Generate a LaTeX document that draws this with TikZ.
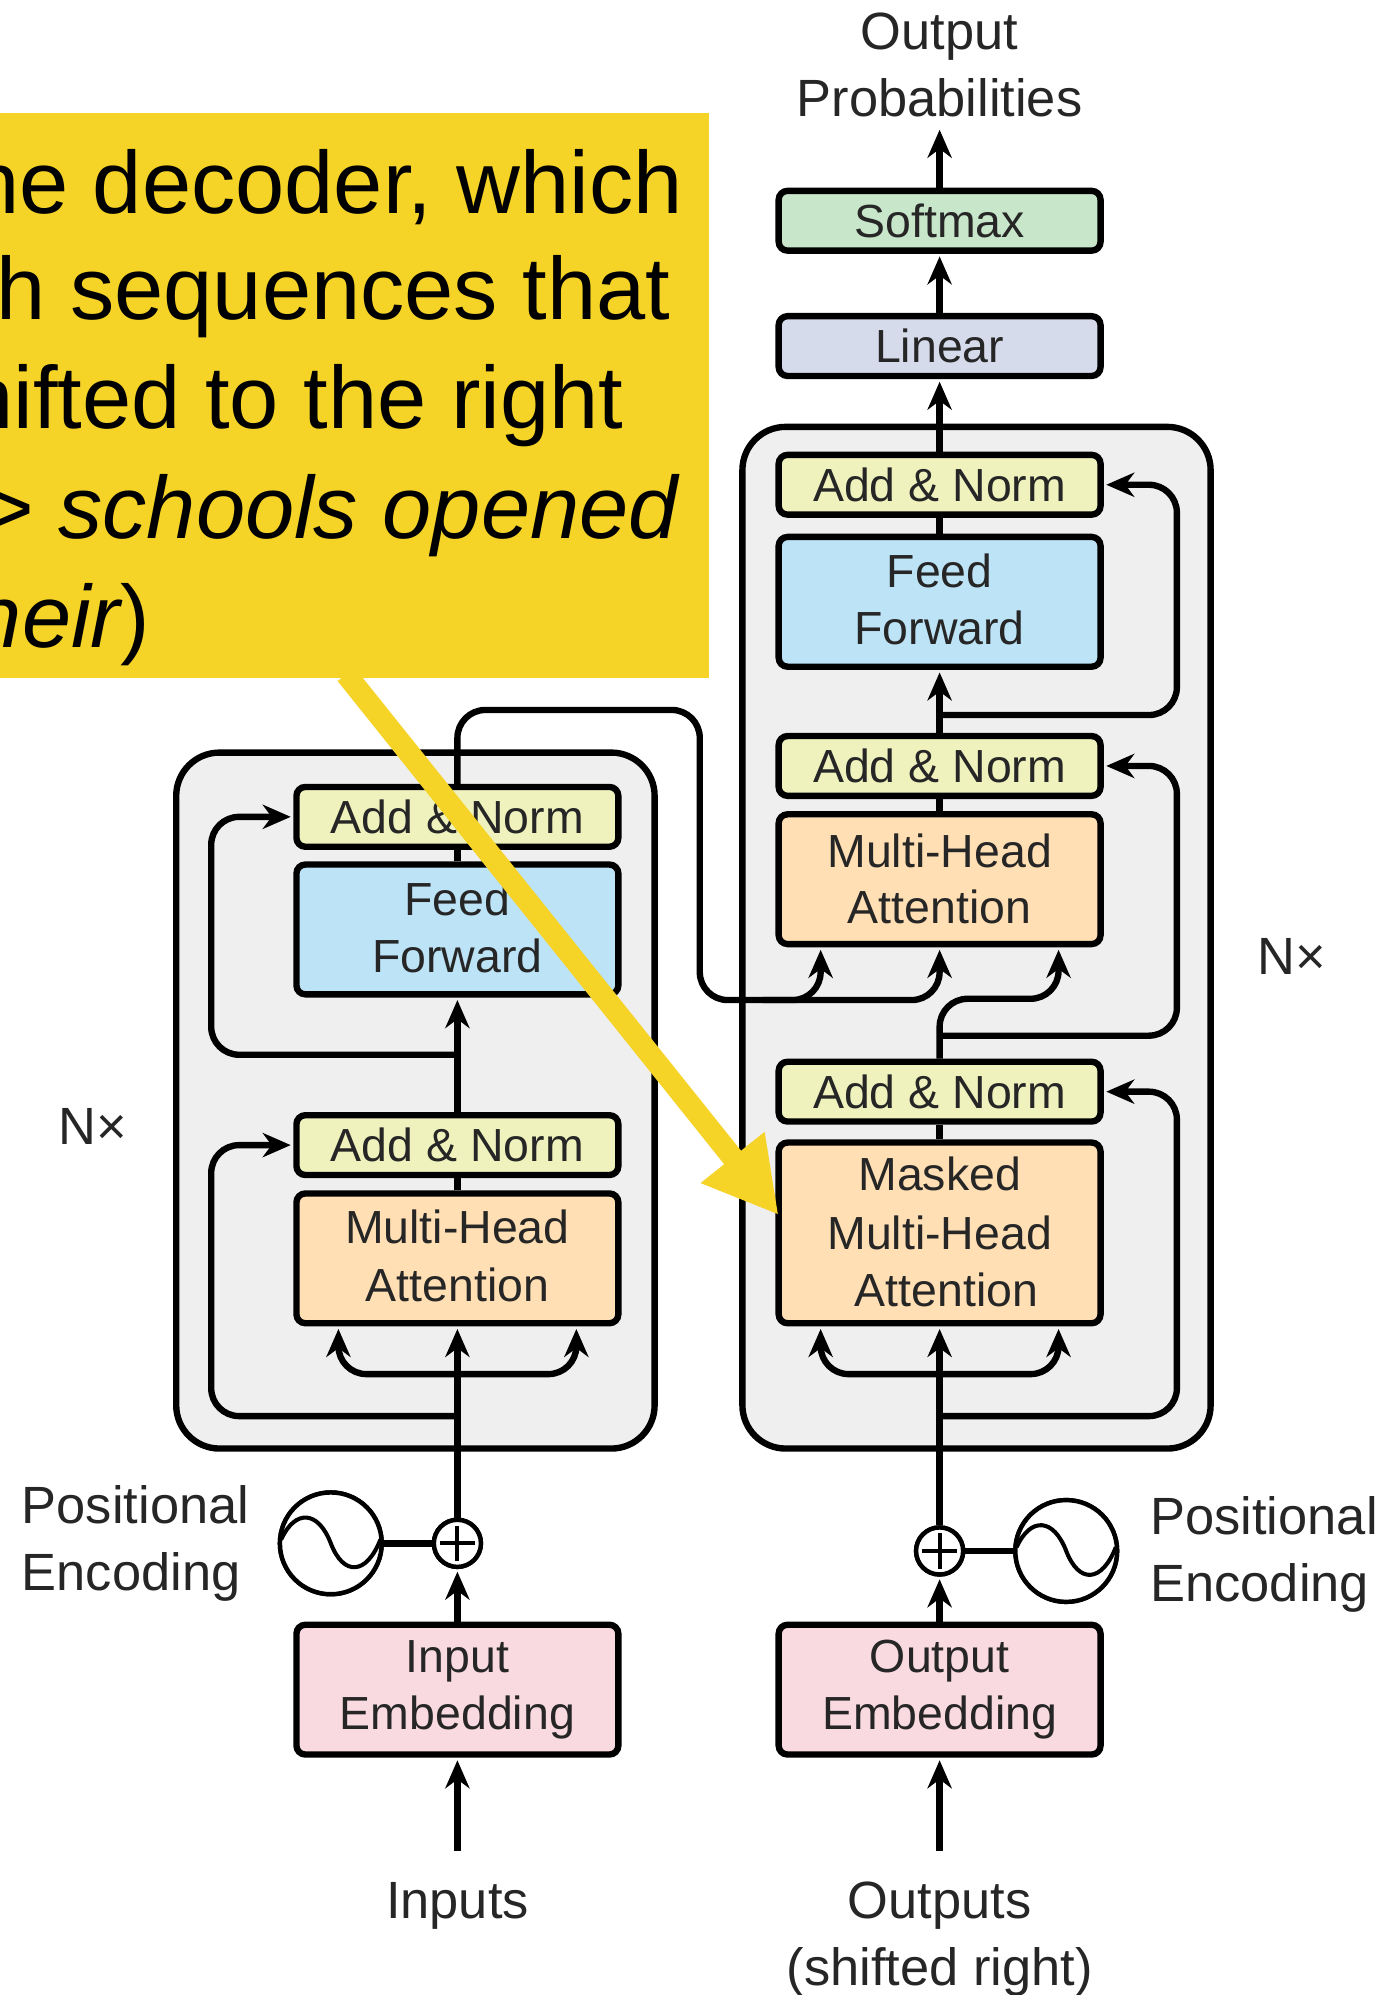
\documentclass[tikz,border=0pt]{standalone}
\usepackage{fontspec}
\setmainfont{Liberation Sans}
\usetikzlibrary{arrows.meta}
\definecolor{cgreen}{HTML}{C8E6C9}
\definecolor{cblue}{HTML}{D6DBEC}
\definecolor{cnorm}{HTML}{EFF2BD}
\definecolor{cff}{HTML}{BDE3F6}
\definecolor{corange}{HTML}{FFDFB3}
\definecolor{cpink}{HTML}{F9DAE1}
\definecolor{cgray}{HTML}{EFEFEF}
\definecolor{cyellow}{HTML}{F5D327}
\definecolor{ctext}{HTML}{262626}
\newcommand\lineup[2]{\raisebox{#1}{#2}}
\tikzset{
  x=1pt,y=-1pt,
  block/.style={draw=black,line width=5pt,rounded corners=7pt,minimum width=253pt,inner sep=0pt,align=center,text=ctext,font=\fontsize{36.5}{45}\selectfont},
  short/.style={block,minimum height=47pt},
  mid/.style={block,minimum height=102pt},
  outerbox/.style={draw=black,line width=5pt,rounded corners=34pt,fill=cgray,inner sep=0pt},
  conn/.style={draw=black,line width=5pt,rounded corners=22pt,-{Stealth[length=22pt,width=19pt,inset=7pt]},shorten >=2pt},
  plain/.style={draw=black,line width=5pt,rounded corners=22pt},
  lbl/.style={text=ctext,inner sep=0pt,align=center,font=\fontsize{41.2}{52.5}\selectfont},
  lbll/.style={lbl,align=left},
  ytext/.style={text=black,inner sep=0pt,anchor=east,font=\fontsize{69.5}{86}\selectfont},
  circ/.style={draw=black,line width=3.5pt,fill=white,circle,inner sep=0pt},
  yarrow/.style={draw=cyellow,line width=17pt,-{Triangle[length=58pt,width=60pt]}},
}
\begin{document}
\begin{tikzpicture}
\useasboundingbox (0,0) rectangle (1087,1568);
% outer boxes
\node[outerbox,minimum width=368pt,minimum height=803pt,anchor=north west] (decoder) at (581,333) {};
\node[outerbox,minimum width=376pt,minimum height=547pt,anchor=north west] (encoder) at (136,589) {};
% decoder blocks
\node[short,fill=cgreen] (softmax) at (738.5,173.5) {Softmax};
\node[short,fill=cblue] (linear) at (738.5,272) {Linear};
\node[short,fill=cnorm] (normA) at (738.5,381) {Add \& Norm};
\node[mid,fill=cff] (ffd) at (738.5,473) {\lineup{4pt}{Feed}\\\lineup{4pt}{Forward}};
\node[short,fill=cnorm] (normB) at (738.5,602) {Add \& Norm};
\node[mid,fill=corange] (mhad) at (738.5,691) {Multi-Head\\\lineup{1pt}{Attention}};
\node[short,fill=cnorm] (normC) at (738.5,858) {Add \& Norm};
\node[block,minimum height=142pt,fill=corange] (masked) at (738.5,969) {\lineup{3pt}{Masked}\\\lineup{2pt}{Multi-Head}\\\lineup{2pt}{\hspace{11pt}Attention}};
% encoder blocks
\node[short,fill=cnorm] (normD) at (359.5,642) {Add \& Norm};
\node[mid,fill=cff] (ffe) at (359.5,730.5) {\lineup{3pt}{Feed}\\\lineup{3pt}{Forward}};
\node[short,fill=cnorm] (normE) at (359.5,900) {Add \& Norm};
\node[mid,fill=corange] (mhae) at (359.5,989) {\lineup{4pt}{Multi-Head}\\\lineup{4pt}{Attention}};
% embeddings
\node[mid,fill=cpink] (inemb) at (359.5,1328) {Input\\Embedding};
\node[mid,fill=cpink] (outemb) at (738.5,1328) {Output\\Embedding};
% plus signs and encodings
\node[circ,minimum size=37pt] (plusE) at (359.5,1213) {};
\node[circ,minimum size=37pt] (plusD) at (738.5,1219) {};
\node[circ,minimum size=80pt] (sinE) at (260,1213) {};
\node[circ,minimum size=80pt] (sinD) at (838,1219) {};
% labels
\node[lbl] (outprob) at (738.5,51) {Output\\Probabilities};
\node[lbl] (inputs) at (359.5,1498) {Inputs};
\node[lbl] (outputs) at (738.5,1524) {Outputs\\(shifted right)};
\node[lbll,anchor=west] (peE) at (17,1213) {Positional\\Encoding};
\node[lbll,anchor=west] (peD) at (904,1222) {Positional\\Encoding};
\node[lbl] (nxE) at (73,885) {N×};
\node[lbl] (nxD) at (1015,752) {N×};
% coordinates
\coordinate (inE) at (359.5,1455);
\coordinate (inD) at (738.5,1455);
\coordinate (resD1) at (738.5,562);
\coordinate (resD2) at (738.5,814);
\coordinate (resD3) at (738.5,1113);
\coordinate (resE1) at (359.5,829);
\coordinate (resE2) at (359.5,1113);
\coordinate (railD) at (925,0);
\coordinate (railE) at (166,0);
\coordinate (topout) at (738.5,100);
% decoder connectors
\draw[conn] (softmax.north) -- (topout);
\draw[conn] (linear.north) -- (softmax.south);
\draw[conn] (normA.north) -- (linear.south);
\draw[plain] (ffd.north) -- (normA.south);
\draw[conn] (normB.north) -- (ffd.south);
\draw[plain] (mhad.north) -- (normB.south);
\draw[plain] (masked.north) -- (normC.south);
\draw[conn] (resD1) -- (resD1 -| railD) -- (normA.east -| railD) -- (normA.east);
\draw[conn] (resD2) -- (resD2 -| railD) -- (normB.east -| railD) -- (normB.east);
\draw[conn] (resD3) -- (resD3 -| railD) -- (normC.east -| railD) -- (normC.east);
\draw[conn] (normC.north) -- (738.5,785) -- (832,785) -- ([xshift=93.5pt]mhad.south);
\draw[conn] (plusD.north) -- (masked.south);
\draw[conn] (738.5,1080) -- (645,1080) -- ([xshift=-93.5pt]masked.south);
\draw[conn] (738.5,1080) -- (832,1080) -- ([xshift=93.5pt]masked.south);
% encoder to decoder
\draw[conn] (normD.north) -- (359.5,558) -- (550,558) -- (550,786) -- (738.5,786) -- (mhad.south);
\draw[conn] (600,786) -- (645,786) -- ([xshift=-93.5pt]mhad.south);
% encoder connectors
\draw[plain] (ffe.north) -- (normD.south);
\draw[plain] (mhae.north) -- (normE.south);
\draw[conn] (normE.north) -- (ffe.south);
\draw[conn] (resE1) -- (resE1 -| railE) -- (normD.west -| railE) -- (normD.west);
\draw[conn] (resE2) -- (resE2 -| railE) -- (normE.west -| railE) -- (normE.west);
\draw[conn] (plusE.north) -- (mhae.south);
\draw[conn] (359.5,1080) -- (266,1080) -- ([xshift=-93.5pt]mhae.south);
\draw[conn] (359.5,1080) -- (453,1080) -- ([xshift=93.5pt]mhae.south);
% bottom connectors
\draw[conn] (inemb.north) -- (plusE.south);
\draw[conn] (outemb.north) -- (plusD.south);
\draw[conn] (inE) -- (inemb.south);
\draw[conn] (inD) -- (outemb.south);
\draw[plain] (plusE) -- (sinE);
\draw[plain] (plusD) -- (sinD);
% redraw symbols over their connectors
\node[circ,minimum size=37pt] at (plusE) {};
\node[circ,minimum size=37pt] at (plusD) {};
\node[circ,minimum size=80pt] at (sinE) {};
\node[circ,minimum size=80pt] at (sinD) {};
\foreach \c in {plusE,plusD}{
  \draw[line width=3pt] ([xshift=-14pt]\c.center) -- ([xshift=14pt]\c.center);
  \draw[line width=3pt] ([yshift=-14pt]\c.center) -- ([yshift=14pt]\c.center);
}
\foreach \c in {sinE,sinD}{
  \draw[line width=3.2pt] ([xshift=-39pt,yshift=3pt]\c.center) .. controls ([xshift=-28pt,yshift=27pt]\c.center) and ([xshift=-10pt,yshift=26pt]\c.center) .. (\c.center) .. controls ([xshift=10pt,yshift=-26pt]\c.center) and ([xshift=28pt,yshift=-25pt]\c.center) .. ([xshift=39pt,yshift=3pt]\c.center);
}
% yellow callout
\node[fill=cyellow,minimum width=557pt,minimum height=444pt,inner sep=0pt,anchor=north west] (ybox) at (0,89) {};
\coordinate (ystart) at (272,530);
\coordinate (ytip) at (612,955);
\draw[yarrow] (ystart) -- (ytip);
\begin{scope}
\clip (0,89) rectangle (557,533);
\node[ytext] (yA) at (537,147) {he decoder, which};
\node[ytext] (yB) at (527,233) {h sequences that};
\node[ytext] (yC) at (490,319) {hifted to the right};
\node[ytext] (yD) at (533,405) {> \itshape schools opened};
\node[ytext] (yE) at (118,491) {\itshape heir\upshape)};
\end{scope}
\end{tikzpicture}
\end{document}
